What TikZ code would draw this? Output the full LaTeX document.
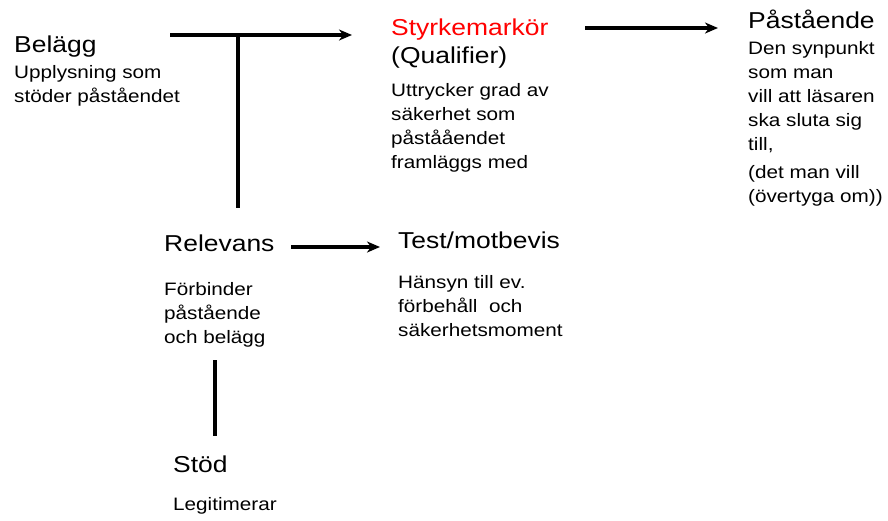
\documentclass[tikz,border=0pt]{standalone}
\usepackage{fontspec}
\setmainfont{Liberation Sans}[FakeStretch=1.15]
\usetikzlibrary{arrows.meta}
\definecolor{qred}{RGB}{255,0,0}
\begin{document}
\begin{tikzpicture}[x=1pt,y=-1pt,
  title/.style={anchor=base west, inner sep=0pt, font=\fontsize{23}{28}\selectfont},
  body/.style={anchor=base west, inner sep=0pt, align=left, font=\fontsize{18}{24}\selectfont},
  conn/.style={line width=3.5pt},
  arr/.style={conn, -{Stealth[length=13pt,width=11pt,inset=4pt]}}]
\useasboundingbox (0,0) rectangle (888,520);
% texts (multi-line nodes are placed by the baseline of their last line)
\node[title] (belagg) at (14,52) {Belägg};
\node[body] (belaggtxt) at (14,102) {Upplysning som\\stöder påståendet};
\node[title, text=qred] (styrke) at (391,35) {Styrkemarkör};
\node[title] (qual) at (391,63) {(Qualifier)};
\node[body] (qualtxt) at (391,168) {Uttrycker grad av\\säkerhet som\\påstååendet\\framläggs med};
\node[title] (past) at (748,28) {Påstående};
\node[body] (pasttxt) at (748,202) {Den synpunkt\\som man\\vill att läsaren\\ska sluta sig\\till,\\[4pt](det man vill\\(övertyga om))};
\node[title] (rel) at (164,251) {Relevans};
\node[body] (reltxt) at (164,343) {Förbinder\\påstående\\och belägg};
\node[title] (test) at (398,248) {Test/motbevis};
\node[body] (testtxt) at (398,336) {Hänsyn till ev.\\förbehåll\ \ och\\säkerhetsmoment};
\node[title] (stod) at (173,472) {Stöd};
\node[body] (stodtxt) at (173,510) {Legitimerar};
% connector ends
\coordinate (tl) at (170,35);
\coordinate (tr) at (352,35);
\coordinate (tj) at (238,35);
\coordinate (tb) at (238,208);
\coordinate (ql) at (585,28);
\coordinate (qr) at (718,28);
\coordinate (rl) at (291,247);
\coordinate (rr) at (380,247);
\coordinate (st) at (215,360);
\coordinate (sb) at (215,436);
% connectors
\draw[arr] (tl) -- (tr);
\draw[conn] (tj) -- (tb);
\draw[arr] (ql) -- (qr);
\draw[arr] (rl) -- (rr);
\draw[conn] (st) -- (sb);
\end{tikzpicture}
\end{document}
